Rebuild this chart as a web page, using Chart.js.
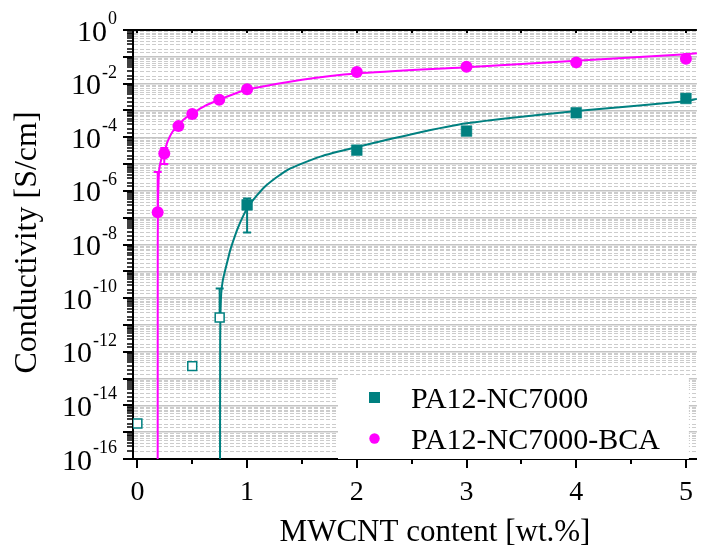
<!DOCTYPE html>
<html>
<head>
<meta charset="utf-8">
<title>Conductivity vs MWCNT content</title>
<script src="https://cdn.jsdelivr.net/npm/chart.js@4/dist/chart.umd.min.js"></script>
<style>
  html, body { margin: 0; padding: 0; background: #fff; overflow: hidden; }
  #wrap { width: 705px; height: 547px; }
</style>
</head>
<body>
<div id="wrap"><canvas id="chart" width="705" height="547"></canvas></div>
<script>
// tick labels
const xTickLabels = [0, 1, 2, 3, 4, 5];
const yTickExps = [0, -2, -4, -6, -8, -10, -12, -14, -16];

// PA12-NC7000 measured points (open symbols = first three)
const ncX    = [0, 0.5, 0.75, 1, 2, 3, 4, 5];
const ncY    = [2.1e-15, 2.9e-13, 1.9e-11, 3.0e-7, 3.3e-5, 1.7e-4, 8.2e-4, 2.8e-3];
const ncLo   = [1.8e-15, 2.1e-13, 1.6e-11, 2.8e-8, 3.0e-5, 1.7e-4, 8.2e-4, 2.8e-3];
const ncHi   = [2.4e-15, 4.0e-13, 2.3e-10, 5.2e-7, 3.7e-5, 1.7e-4, 8.2e-4, 2.8e-3];
const ncOpen = [true, true, true, false, false, false, false, false];

// PA12-NC7000-BCA measured points
const bcaX  = [0.185, 0.245, 0.374, 0.5, 0.746, 1, 2, 3, 4, 5];
const bcaY  = [1.6e-7, 2.5e-5, 2.6e-4, 7.4e-4, 2.5e-3, 6.2e-3, 2.7e-2, 4.3e-2, 6.2e-2, 8.5e-2];
const bcaLo = [1.6e-7, 1.0e-5, 2.6e-4, 5.9e-4, 2.5e-3, 6.2e-3, 2.3e-2, 4.3e-2, 6.2e-2, 8.5e-2];
const bcaHi = [5.1e-6, 4.0e-5, 2.6e-4, 9.3e-4, 2.5e-3, 6.2e-3, 3.2e-2, 4.3e-2, 6.2e-2, 8.5e-2];

// fitted curves
const ncFitX = [0.753, 0.7545, 0.757, 0.764, 0.779, 0.80, 0.831, 0.846, 0.921, 1.011, 1.159, 1.366, 1.668, 2.0, 2.5, 3.0, 4.0, 5.0, 5.1];
const ncFitY = [1e-17, 2.7e-12, 2.3e-11, 1.5e-10, 4.7e-10, 1.1e-9, 3.5e-9, 6.2e-9, 4.6e-8, 2.6e-7, 1.4e-6, 6.0e-6, 1.9e-5, 4.3e-5, 1.3e-4, 3.3e-4, 9.5e-4, 2.2e-3, 2.7e-3];
const bcaFitX = [0.185, 0.1855, 0.188, 0.193, 0.2, 0.225, 0.245, 0.275, 0.32, 0.374, 0.425, 0.5, 0.62, 0.746, 0.874, 1.0, 1.5, 2.0, 3.0, 4.0, 5.0, 5.1];
const bcaFitY = [1e-17, 1.0e-8, 4.0e-7, 2.2e-6, 6.9e-6, 1.9e-5, 2.8e-5, 6.8e-5, 1.6e-4, 2.8e-4, 4.7e-4, 7.6e-4, 1.5e-3, 2.5e-3, 4.0e-3, 6.0e-3, 1.4e-2, 2.4e-2, 4.1e-2, 7.1e-2, 0.124, 0.135];

const TEAL = '#008080';
const MAGENTA = '#ff00ff';
const SERIF = '"Liberation Serif", "Times New Roman", serif';

const pts = (xs, ys) => xs.map((x, i) => ({ x: x, y: ys[i] }));
const isDecade = v => { const e = Math.log10(v); return Math.abs(e - Math.round(e)) < 1e-6; };

// dashed minor grid (chart.js only does one dash style per axis)
const minorGrid = {
  id: 'minorGrid',
  beforeDatasetsDraw(chart) {
    const { ctx, chartArea: a, scales: { y } } = chart;
    ctx.save();
    ctx.strokeStyle = '#cccccc';
    ctx.lineWidth = 1;
    ctx.setLineDash([4, 2]);
    y.ticks.forEach(t => {
      if (isDecade(t.value)) return;
      const py = Math.round(y.getPixelForValue(t.value)) + 0.5;
      ctx.beginPath();
      ctx.moveTo(a.left + 1, py);
      ctx.lineTo(a.right, py);
      ctx.stroke();
    });
    ctx.restore();
  }
};

// error bars drawn just under each point dataset
const errorBars = {
  id: 'errorBars',
  beforeDatasetDraw(chart, args) {
    const ds = chart.data.datasets[args.index];
    if (!ds.errLo) return;
    const { ctx, scales: { x, y } } = chart;
    ctx.save();
    ctx.strokeStyle = ds.borderColor;
    ctx.lineWidth = 2;
    ds.data.forEach((p, i) => {
      const px = x.getPixelForValue(p.x);
      const pv = y.getPixelForValue(p.y);
      const lo = y.getPixelForValue(ds.errLo[i]);
      const hi = y.getPixelForValue(ds.errHi[i]);
      if (Math.abs(lo - hi) < 1) return;
      ctx.beginPath();
      ctx.moveTo(px, lo);
      ctx.lineTo(px, hi);
      if (Math.abs(lo - pv) > 0.5) { ctx.moveTo(px - 4, lo); ctx.lineTo(px + 4, lo); }
      if (Math.abs(hi - pv) > 0.5) { ctx.moveTo(px - 4, hi); ctx.lineTo(px + 4, hi); }
      ctx.stroke();
    });
    ctx.restore();
  }
};

// legend box in the lower right corner
const boxLegend = {
  id: 'boxLegend',
  afterDatasetsDraw(chart) {
    const { ctx, chartArea: a } = chart;
    ctx.save();
    ctx.fillStyle = '#fff';
    ctx.fillRect(338, 378, a.right - 8 - 338, a.bottom - 378);
    const items = chart.data.datasets.filter(d => d.inLegend);
    ctx.font = '30px ' + SERIF;
    ctx.textAlign = 'left';
    ctx.textBaseline = 'alphabetic';
    items.forEach((d, i) => {
      const cy = 397 + i * 41;
      ctx.fillStyle = d.borderColor;
      if (d.pointStyle === 'rect') {
        ctx.fillRect(369, cy - 5, 11, 11);
      } else {
        ctx.beginPath();
        ctx.arc(374.5, cy + 0.5, 5.2, 0, Math.PI * 2);
        ctx.fill();
      }
      ctx.fillStyle = '#000';
      ctx.fillText(d.label, 411, cy + 11);
    });
    ctx.restore();
  }
};

// axis ticks, top border, tick labels with exponents and axis titles
const axisDecor = {
  id: 'axisDecor',
  afterDraw(chart) {
    const { ctx, chartArea: a, scales: { x, y } } = chart;
    ctx.save();
    ctx.strokeStyle = '#000';
    ctx.fillStyle = '#000';

    // top border
    ctx.lineWidth = 2;
    ctx.beginPath();
    ctx.moveTo(a.left - 1, a.top);
    ctx.lineTo(a.right, a.top);
    ctx.stroke();

    // y ticks
    y.ticks.forEach(t => {
      const py = Math.round(y.getPixelForValue(t.value));
      const major = isDecade(t.value);
      ctx.lineWidth = major ? 2 : 1.5;
      ctx.beginPath();
      ctx.moveTo(a.left, py);
      ctx.lineTo(a.left - (major ? 10 : 6), py);
      ctx.stroke();
    });

    // x ticks (bottom outward, top inward)
    x.ticks.forEach(t => {
      const px = Math.round(x.getPixelForValue(t.value));
      const major = Number.isInteger(t.value);
      ctx.lineWidth = 2;
      ctx.beginPath();
      ctx.moveTo(px, a.bottom);
      ctx.lineTo(px, a.bottom + (major ? 9 : 5));
      ctx.moveTo(px, a.top);
      ctx.lineTo(px, a.top + 3);
      ctx.stroke();
    });

    // x tick labels
    ctx.font = '28px ' + SERIF;
    ctx.textAlign = 'center';
    ctx.textBaseline = 'alphabetic';
    xTickLabels.forEach(v => {
      ctx.fillText(String(v), x.getPixelForValue(v), 500);
    });

    // y tick labels 10^n
    ctx.textAlign = 'right';
    yTickExps.forEach(e => {
      const py = y.getPixelForValue(Math.pow(10, e));
      const sup = String(e);
      ctx.font = '18px ' + SERIF;
      const w = ctx.measureText(sup).width;
      ctx.fillText(sup, 117, py - 6);
      ctx.font = '30px ' + SERIF;
      ctx.fillText('10', 117 - w - 1, py + 10.5);
    });

    // axis titles
    ctx.font = '31px ' + SERIF;
    ctx.textAlign = 'center';
    ctx.fillText('MWCNT content [wt.%]', 435, 541);
    ctx.font = '32px ' + SERIF;
    ctx.translate(36, (a.top + a.bottom) / 2 - 2);
    ctx.rotate(-Math.PI / 2);
    ctx.fillText('Conductivity [S/cm]', 0, 0);
    ctx.restore();
  }
};

new Chart(document.getElementById('chart'), {
  type: 'scatter',
  data: {
    datasets: [
      {
        label: 'PA12-NC7000',
        inLegend: true,
        data: pts(ncX, ncY),
        errLo: ncLo,
        errHi: ncHi,
        pointStyle: 'rect',
        pointRadius: ncOpen.map(o => o ? 6.3 : 7.6),
        borderColor: TEAL,
        backgroundColor: ncOpen.map(o => o ? '#fff' : TEAL),
        borderWidth: ncOpen.map(o => o ? 1.5 : 0.5)
      },
      {
        label: 'PA12-NC7000-BCA',
        inLegend: true,
        data: pts(bcaX, bcaY),
        errLo: bcaLo,
        errHi: bcaHi,
        pointStyle: 'circle',
        pointRadius: 6,
        borderColor: MAGENTA,
        backgroundColor: MAGENTA,
        borderWidth: 0
      },
      {
        type: 'line',
        label: 'NC7000 fit',
        data: pts(ncFitX, ncFitY),
        borderColor: TEAL,
        borderWidth: 2,
        pointRadius: 0,
        tension: 0.2
      },
      {
        type: 'line',
        label: 'BCA fit',
        data: pts(bcaFitX, bcaFitY),
        borderColor: MAGENTA,
        borderWidth: 2,
        pointRadius: 0,
        tension: 0.2
      }
    ]
  },
  options: {
    responsive: false,
    animation: false,
    layout: { padding: { top: 30, right: 0, bottom: 0, left: 0 } },
    plugins: { legend: { display: false }, tooltip: { enabled: false } },
    scales: {
      x: {
        type: 'linear',
        min: -0.04,
        max: 5.1,
        ticks: { stepSize: 0.5, includeBounds: false, autoSkip: false, display: false },
        grid: { drawOnChartArea: false, drawTicks: false },
        border: { color: '#000', width: 2 },
        afterFit: s => { s.height = 88; }
      },
      y: {
        type: 'logarithmic',
        min: 1e-16,
        max: 1,
        ticks: { autoSkip: false, display: false },
        grid: {
          drawTicks: false,
          lineWidth: 1.5,
          color: c => (c.tick && isDecade(c.tick.value)) ? '#c4c4c4' : 'rgba(0,0,0,0)'
        },
        border: { color: '#000', width: 2 },
        afterFit: s => { s.width = 133; }
      }
    }
  },
  plugins: [minorGrid, errorBars, boxLegend, axisDecor]
});
</script>
</body>
</html>
